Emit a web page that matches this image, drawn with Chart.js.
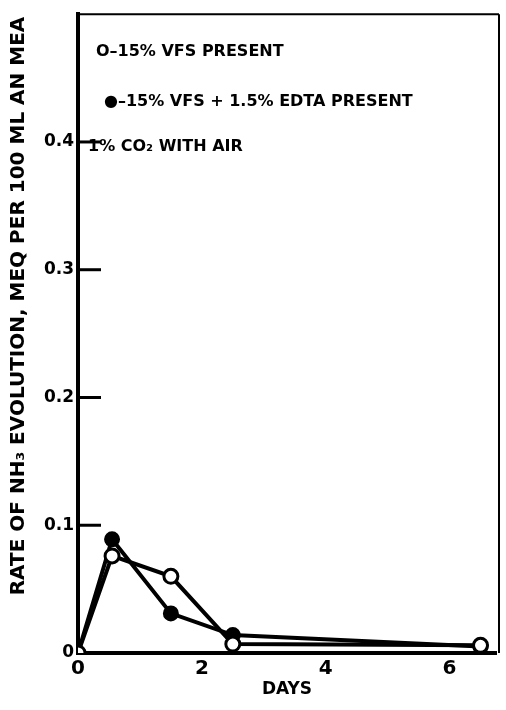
<!DOCTYPE html>
<html>
<head>
<meta charset="utf-8">
<script src="https://cdn.jsdelivr.net/npm/chart.js@4"></script>
<style>
  html, body { margin: 0; padding: 0; background: #fff; }
  #wrap { width: 506px; height: 710px; }
</style>
</head>
<body>
<div id="wrap"><canvas id="myChart" width="506" height="710"></canvas></div>
<script>
// data
var days = [0, 0.55, 1.5, 2.5, 6.5];
var vfsOnly = [0, 0.076, 0.060, 0.007, 0.006];     // open circles
var vfsEdta = [0, 0.089, 0.031, 0.014, 0.005];     // filled circles
var xTicks = [0, 2, 4, 6];
var yTicks = [0, 0.1, 0.2, 0.3, 0.4];
var yTickLabels = ['0', '0.1', '0.2', '0.3', '0.4'];
var yTitle = 'RATE OF NH₃ EVOLUTION, MEQ PER 100 ML AN MEA';
var notes = ['O–15% VFS PRESENT', '●–15% VFS + 1.5% EDTA PRESENT', '1% CO₂ WITH AIR'];

function toPoints(ys){
    return days.map(function(d, i){ return {x: d, y: ys[i]}; });
}

// ticks pointing into the plot, the thin top/right frame, notes and y title
var frame = {
    id: 'frame',
    afterDraw: function(c){
        var ctx = c.ctx, a = c.chartArea;
        var ys = c.scales.y;
        ctx.save();
        ctx.strokeStyle = '#000';
        ctx.lineWidth = 2;
        ctx.beginPath();
        ctx.moveTo(a.left, a.top); ctx.lineTo(a.right + 3, a.top);
        ctx.moveTo(a.right + 3, a.top); ctx.lineTo(a.right + 3, a.bottom);
        ctx.stroke();
        ctx.lineWidth = 3;
        yTicks.forEach(function(v){
            if (v === 0) return;
            var p = ys.getPixelForValue(v);
            ctx.beginPath();
            ctx.moveTo(a.left, p); ctx.lineTo(a.left + 23, p);
            ctx.stroke();
        });
        ctx.fillStyle = '#000';
        ctx.font = 'bold 16px "DejaVu Sans"';
        ctx.textBaseline = 'middle';
        var rows = [52, 102, 147];
        var xs = [a.left + 18, a.left + 26, a.left + 10];
        notes.forEach(function(t, i){ ctx.fillText(t, xs[i], rows[i]); });

        ctx.translate(19, 306);
        ctx.rotate(-Math.PI / 2);
        ctx.textAlign = 'center';
        ctx.font = 'bold 20px "DejaVu Sans"';
        ctx.fillText(yTitle, 0, 0);
        ctx.restore();
    }
};

var chart = new Chart(document.getElementById('myChart'), {
    type: 'scatter',
    data: {
        datasets: [{
            label: '15% VFS + 1.5% EDTA',
            data: toPoints(vfsEdta),
            showLine: true,
            borderColor: '#000',
            borderWidth: 4,
            pointRadius: 6,
            pointBackgroundColor: '#000',
            pointBorderColor: '#000',
            order: 2
        }, {
            label: '15% VFS',
            data: toPoints(vfsOnly),
            showLine: true,
            borderColor: '#000',
            borderWidth: 4,
            pointRadius: 7,
            pointBorderWidth: 3,
            pointBackgroundColor: '#fff',
            pointBorderColor: '#000',
            order: 1
        }]
    },
    options: {
        responsive: false,
        animation: false,
        layout: { padding: { top: 9, right: 6, left: 0, bottom: 10 } },
        plugins: { legend: { display: false }, tooltip: { enabled: false } },
        scales: {
            x: {
                type: 'linear',
                min: 0, max: 6.75,
                afterBuildTicks: function(s){ s.ticks = xTicks.map(function(v){ return {value: v}; }); },
                afterFit: function(s){ s.height = 47; },
                grid: { drawOnChartArea: false, drawTicks: false },
                border: { color: '#000', width: 4 },
                ticks: { color: '#000', padding: 4, font: { family: 'DejaVu Sans', size: 20, weight: 'bold' } },
                title: { display: true, text: 'DAYS', color: '#000', padding: 0,
                         font: { family: 'DejaVu Sans', size: 17, weight: 'bold' } }
            },
            y: {
                min: 0, max: 0.5,
                afterBuildTicks: function(s){ s.ticks = yTicks.map(function(v){ return {value: v}; }); },
                afterFit: function(s){ s.width = 78; },
                grid: { drawOnChartArea: false, drawTicks: false },
                border: { color: '#000', width: 4 },
                ticks: {
                    color: '#000', padding: 4,
                    font: { family: 'DejaVu Sans', size: 17, weight: 'bold' },
                    callback: function(v){ var i = yTicks.indexOf(v); return i < 0 ? '' : yTickLabels[i]; }
                }
            }
        }
    },
    plugins: [frame]
});
</script>
</body>
</html>
